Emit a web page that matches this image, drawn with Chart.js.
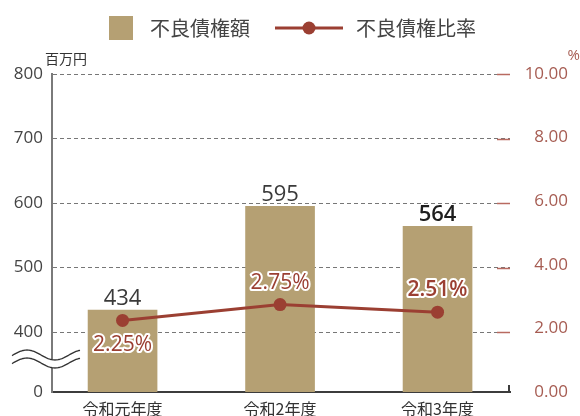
<!DOCTYPE html>
<html lang="ja">
<head>
<meta charset="utf-8">
<title>不良債権額・不良債権比率</title>
<script src="https://cdn.jsdelivr.net/npm/chart.js@4.4.1/dist/chart.umd.min.js"></script>
<style>
  html, body { margin: 0; padding: 0; background: #fff; }
  canvas { display: block; }
</style>
</head>
<body>
<canvas id="npl_chart" width="580" height="416"></canvas>
<script>
// data
const years = ['令和元年度', '令和2年度', '令和3年度'];
const loanAmounts = [434, 595, 564];     // 百万円
const loanRatios = [2.25, 2.75, 2.51];   // %
const amountTicks = [400, 500, 600, 700, 800];
const ratioTicks = [0, 2, 4, 6, 8, 10];
const amountLabel = '不良債権額';
const ratioLabel = '不良債権比率';

// the left axis is broken between 0 and 400, its bottom sits at this value
const amountAxisFloor = 307;

const BAR_COLOR = '#b5a073';
const LINE_COLOR = '#9b3f32';
const RATIO_TEXT = '#a65c52';
const NUM_FONT = '"Open Sans", "Noto Sans CJK JP", sans-serif';
const JP_FONT = '"Noto Sans CJK JP", "Open Sans", sans-serif';

const decorations = {
    id: 'decorations',
    afterDatasetsDraw(chart) {
        const ctx = chart.ctx;
        const bars = chart.getDatasetMeta(1).data;
        const points = chart.getDatasetMeta(0).data;
        const last = years.length - 1;

        ctx.save();
        ctx.textAlign = 'center';

        // bar values
        ctx.textBaseline = 'alphabetic';
        bars.forEach((bar, i) => {
            ctx.font = (i === last ? '600 ' : '400 ') + '22px ' + NUM_FONT;
            ctx.fillStyle = i === last ? '#1e1e1e' : '#3a3a3a';
            ctx.fillText(String(loanAmounts[i]), bar.x, bar.y - 5);
        });

        // ratio labels, outlined in white
        ctx.textBaseline = 'middle';
        ctx.lineJoin = 'round';
        points.forEach((pt, i) => {
            const roomAbove = pt.y - bars[i].y;
            const y = roomAbove < 30 ? pt.y + 25 : pt.y - 22;
            const txt = loanRatios[i].toFixed(2) + '%';
            ctx.font = (i === last ? '600 ' : '400 ') + '21px ' + NUM_FONT;
            ctx.lineWidth = 4;
            ctx.strokeStyle = '#fff';
            ctx.strokeText(txt, pt.x, y);
            ctx.fillStyle = LINE_COLOR;
            ctx.fillText(txt, pt.x, y);
        });
        ctx.restore();
    },
    afterDraw(chart) {
        const ctx = chart.ctx;
        const area = chart.chartArea;
        const yAmount = chart.scales.yAmount;

        ctx.save();

        // short solid marks on the right end of each grid line
        ctx.strokeStyle = '#b86a60';
        ctx.lineWidth = 1.5;
        amountTicks.forEach(v => {
            const y = Math.round(yAmount.getPixelForValue(v)) + 0.5;
            ctx.beginPath();
            ctx.moveTo(area.right - 13, y);
            ctx.lineTo(area.right, y);
            ctx.stroke();
        });
        ctx.strokeStyle = '#3c3c3c';
        ctx.lineWidth = 2;
        ctx.beginPath();
        ctx.moveTo(area.right - 1, area.bottom - 7);
        ctx.lineTo(area.right - 1, area.bottom);
        ctx.stroke();

        // axis break symbol
        const wave = (x, yc) => yc - 5 * Math.sin(2 * Math.PI * (x - 13) / 56);
        const x0 = 12, x1 = 80;
        ctx.beginPath();
        for (let x = x0; x <= x1; x++) ctx.lineTo(x, wave(x, 355));
        for (let x = x1; x >= x0; x--) ctx.lineTo(x, wave(x, 363));
        ctx.closePath();
        ctx.fillStyle = '#fff';
        ctx.fill();
        ctx.strokeStyle = '#333';
        ctx.lineWidth = 1.3;
        [355, 363].forEach(yc => {
            ctx.beginPath();
            for (let x = x0; x <= x1; x++) ctx.lineTo(x, wave(x, yc));
            ctx.stroke();
        });

        // units
        ctx.textBaseline = 'middle';
        ctx.font = '14px ' + JP_FONT;
        ctx.fillStyle = '#333';
        ctx.textAlign = 'left';
        ctx.fillText('百万円', 45, 59);
        ctx.fillStyle = RATIO_TEXT;
        ctx.textAlign = 'right';
        ctx.font = '15px ' + NUM_FONT;
        ctx.fillText('%', 580, 56);

        // legend
        ctx.font = '20px ' + JP_FONT;
        ctx.textAlign = 'left';
        const w1 = ctx.measureText(amountLabel).width;
        let x = 109;
        const ly = 28;
        ctx.fillStyle = BAR_COLOR;
        ctx.fillRect(x, ly - 12, 24, 24);
        x += 24 + 17;
        ctx.fillStyle = '#444';
        ctx.fillText(amountLabel, x, ly);
        x += w1 + 25;
        ctx.strokeStyle = LINE_COLOR;
        ctx.lineWidth = 3;
        ctx.beginPath();
        ctx.moveTo(x, ly);
        ctx.lineTo(x + 68, ly);
        ctx.stroke();
        ctx.fillStyle = LINE_COLOR;
        ctx.beginPath();
        ctx.arc(x + 34, ly, 6.5, 0, Math.PI * 2);
        ctx.fill();
        x += 68 + 13;
        ctx.fillStyle = '#444';
        ctx.fillText(ratioLabel, x, ly);

        ctx.restore();
    }
};

new Chart('npl_chart', {
    type: 'bar',
    data: {
        datasets: [{
            type: 'line',
            label: ratioLabel,
            data: loanRatios.map((v, i) => ({ x: i, y: v })),
            yAxisID: 'yRatio',
            borderColor: LINE_COLOR,
            backgroundColor: LINE_COLOR,
            borderWidth: 3,
            pointRadius: 6.5,
            pointHoverRadius: 6.5,
            pointBorderWidth: 0,
            tension: 0,
            order: 0
        }, {
            label: amountLabel,
            data: loanAmounts.map((v, i) => ({ x: i, y: v })),
            yAxisID: 'yAmount',
            backgroundColor: BAR_COLOR,
            barThickness: 69,
            order: 1
        }]
    },
    options: {
        responsive: false,
        animation: false,
        events: [],
        layout: { padding: { top: 74, right: 12, left: 0, bottom: 0 } },
        plugins: {
            legend: { display: false },
            title: { display: false },
            tooltip: { enabled: false }
        },
        scales: {
            x: {
                type: 'linear',
                offset: false,
                min: -0.448,
                max: 2.46,
                afterBuildTicks: scale => { scale.ticks = years.map((_, i) => ({ value: i })); },
                afterFit: scale => { scale.height = 24; },
                grid: { display: false, drawTicks: false, offset: false },
                border: { display: true, color: '#3c3c3c', width: 2 },
                ticks: {
                    autoSkip: false,
                    maxRotation: 0,
                    padding: 7,
                    color: '#333',
                    font: { family: JP_FONT, size: 16 },
                    callback: v => years[v]
                }
            },
            yAmount: {
                type: 'linear',
                position: 'left',
                min: amountAxisFloor,
                max: 800,
                afterBuildTicks: scale => {
                    scale.ticks = [amountAxisFloor, ...amountTicks].map(v => ({ value: v }));
                },
                afterFit: scale => { scale.width = 52; },
                grid: {
                    drawTicks: false,
                    lineWidth: 1,
                    color: c => (c.tick && c.tick.value === amountAxisFloor) ? 'rgba(0,0,0,0)' : '#777'
                },
                border: { display: true, color: '#7a7a7a', width: 2, dash: [4, 3] },
                ticks: {
                    padding: 9,
                    color: '#444',
                    font: { family: NUM_FONT, size: 17 },
                    callback: v => v === amountAxisFloor ? '0' : String(v)
                }
            },
            yRatio: {
                type: 'linear',
                position: 'right',
                min: 0,
                max: 10,
                afterBuildTicks: scale => { scale.ticks = ratioTicks.map(v => ({ value: v })); },
                afterFit: scale => { scale.width = 58; },
                grid: { display: false, drawTicks: false },
                border: { display: false },
                ticks: {
                    crossAlign: 'far',
                    color: RATIO_TEXT,
                    font: { family: NUM_FONT, size: 17 },
                    callback: v => v.toFixed(2)
                }
            }
        }
    },
    plugins: [decorations]
});
</script>
</body>
</html>
